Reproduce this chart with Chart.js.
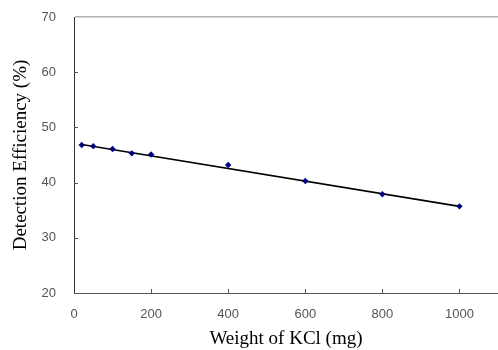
<!DOCTYPE html>
<html>
<head>
<meta charset="utf-8">
<script src="https://cdn.jsdelivr.net/npm/chart.js@4/dist/chart.umd.min.js"></script>
<style>
  html, body { margin: 0; padding: 0; background: #fff; }
  #wrap { width: 498px; height: 350px; }
</style>
</head>
<body>
<div id="wrap"><canvas id="myChart" width="498" height="350"></canvas></div>
<script>
// measured values (mg KCl vs detection efficiency %)
const weights = [20, 50, 100, 150, 200, 400, 600, 800, 1000];
const efficiency = [46.8, 46.6, 46.1, 45.3, 45.1, 43.2, 40.3, 37.9, 35.7];

// linear fit, end points
const fitX = [20, 1000];
const fitY = [46.9, 35.7];

const xTicks = [0, 200, 400, 600, 800, 1000];
const yTicks = [20, 30, 40, 50, 60, 70];

// tick marks drawn inward, like the original
const innerTicks = {
  id: 'innerTicks',
  afterDraw(chart) {
    const ctx = chart.ctx;
    const x = chart.scales.x, y = chart.scales.y;
    const area = chart.chartArea;
    ctx.save();
    ctx.strokeStyle = '#555';
    ctx.lineWidth = 1;
    ctx.beginPath();
    xTicks.forEach(v => {
      if (v === 0) return;
      const px = Math.round(x.getPixelForValue(v)) + 0.5;
      ctx.moveTo(px, area.bottom);
      ctx.lineTo(px, area.bottom - 4);
    });
    yTicks.forEach(v => {
      if (v === 20 || v === 70) return;
      const py = Math.round(y.getPixelForValue(v)) + 0.5;
      ctx.moveTo(area.left, py);
      ctx.lineTo(area.left + 4, py);
    });
    ctx.stroke();
    ctx.restore();
  }
};

const ctx = document.getElementById('myChart').getContext('2d');
new Chart(ctx, {
  type: 'scatter',
  data: {
    datasets: [
      {
        label: 'data',
        data: weights.map((w, i) => ({ x: w, y: efficiency[i] })),
        pointStyle: 'rectRot',
        pointRadius: 3.2,
        pointBackgroundColor: '#000080',
        pointBorderColor: '#000080',
        pointBorderWidth: 0,
        showLine: false,
        order: 0
      },
      {
        label: 'fit',
        type: 'line',
        data: fitX.map((w, i) => ({ x: w, y: fitY[i] })),
        borderColor: '#000',
        borderWidth: 1.6,
        pointRadius: 0,
        fill: false,
        order: 1
      }
    ]
  },
  options: {
    responsive: false,
    animation: false,
    layout: { autoPadding: false, padding: { top: 17, right: 0, left: 0, bottom: 0 } },
    plugins: {
      legend: { display: false },
      tooltip: { enabled: false }
    },
    scales: {
      x: {
        type: 'linear',
        min: 0,
        max: 1100,
        afterBuildTicks: scale => {
          scale.ticks = xTicks.map(v => ({ value: v }));
        },
        afterFit: scale => {
          scale.height = 57;
          scale.paddingLeft = 0;
          scale.paddingRight = 0;
        },
        grid: { drawOnChartArea: false, drawTicks: false },
        border: { display: true, color: '#555', width: 1 },
        ticks: {
          padding: 14,
          color: '#555',
          maxRotation: 0,
          callback: v => String(v),
          font: { family: 'Liberation Sans, Arial, sans-serif', size: 13 }
        },
        title: {
          display: true,
          text: 'Weight of KCl (mg)',
          color: '#000',
          padding: { top: 0, bottom: 0 },
          font: { family: 'Liberation Serif, Times New Roman, serif', size: 19 }
        }
      },
      y: {
        min: 20,
        max: 70,
        afterBuildTicks: scale => {
          scale.ticks = yTicks.map(v => ({ value: v }));
        },
        afterFit: scale => {
          scale.width = 74;
          scale.paddingTop = 0;
          scale.paddingBottom = 0;
        },
        grid: {
          drawTicks: false,
          color: c => (c.tick && c.tick.value === 70 ? '#b0b0b0' : 'rgba(0,0,0,0)'),
          lineWidth: 1.5
        },
        border: { display: true, color: '#333', width: 1 },
        ticks: {
          padding: 18,
          color: '#555',
          font: { family: 'Liberation Sans, Arial, sans-serif', size: 13 }
        },
        title: {
          display: true,
          text: 'Detection Efficiency (%)',
          color: '#000',
          padding: { top: 10, bottom: 0 },
          font: { family: 'Liberation Serif, Times New Roman, serif', size: 19 }
        }
      }
    }
  },
  plugins: [innerTicks]
});
</script>
</body>
</html>
